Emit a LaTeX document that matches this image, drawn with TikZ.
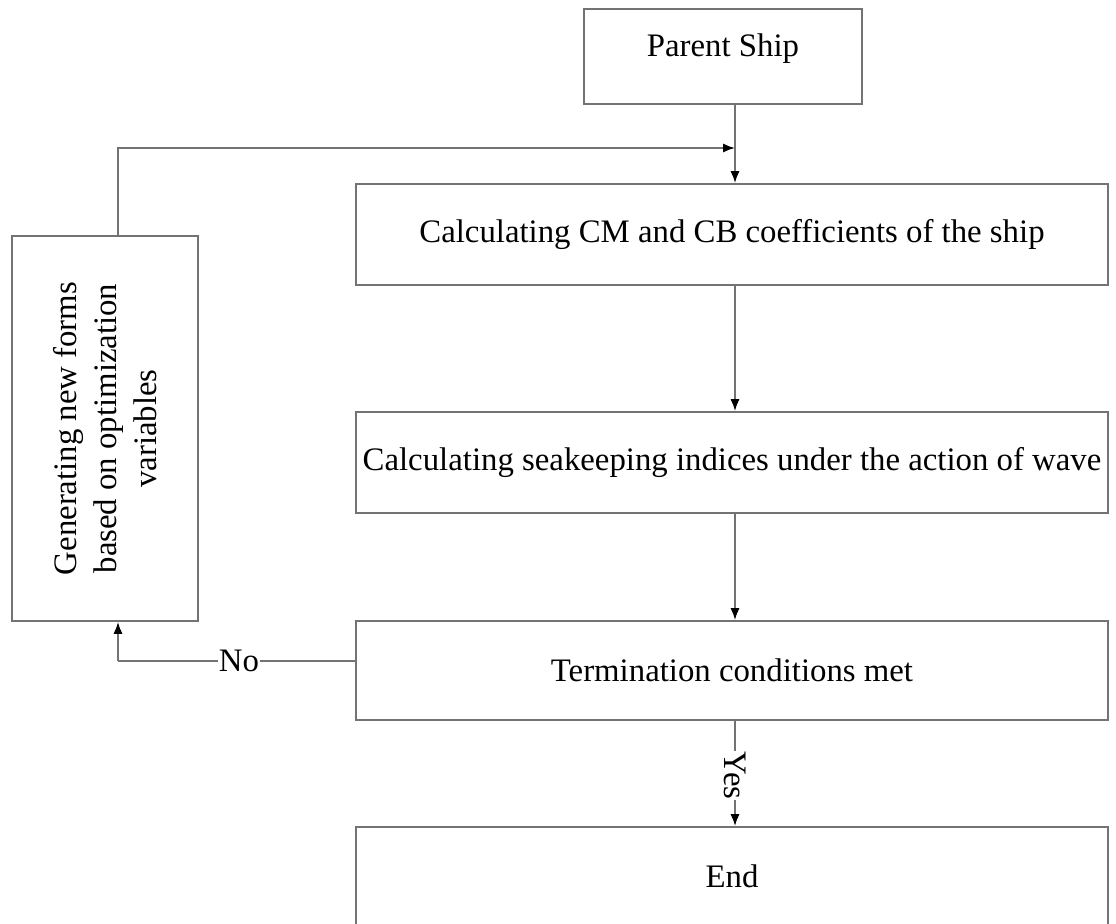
\documentclass[tikz,border=0pt]{standalone}
\usepackage{fontspec}
\setmainfont{Liberation Serif}
\usetikzlibrary{arrows.meta,calc}

\begin{document}
\begin{tikzpicture}[
		x=0.5pt, y=-0.5pt,
		>={Latex[length=6pt,width=4.6pt,black]},
		box/.style={draw=black!55, line width=0.9pt, inner sep=0pt,
			font=\fontsize{16.4}{19}\selectfont, align=center},
		link/.style={draw=black!55, line width=0.9pt},
		tag/.style={font=\fontsize{16.4}{19}\selectfont, fill=white, inner sep=0.5pt},
	]
	\useasboundingbox (0,0) rectangle (1116,924);

	% ---------- main column ----------
	\node[box, minimum width=139pt, minimum height=47.5pt] (parent) at (723,56.5)
		{\raisebox{11pt}{Parent Ship}};
	\node[box, minimum width=376pt, minimum height=50.5pt] (coeff) at (732,234.5)
		{\raisebox{-1.5pt}{Calculating CM and CB coefficients of the ship}};
	\node[box, minimum width=376pt, minimum height=50.5pt] (seakeep) at (732,462.5)
		{Calculating seakeeping indices under the action of wave};
	\node[box, minimum width=376pt, minimum height=49.5pt] (term) at (732,670.5)
		{Termination conditions met};
	\node[box, minimum width=376pt, minimum height=55pt] (finish) at (732,882)
		{\raisebox{6pt}{End}};

	% ---------- feedback box ----------
	\node[box, minimum width=93pt, minimum height=192.5pt] (newform) at (105,428.5) {};
	\node[font=\fontsize{16.4}{20}\selectfont, align=center, rotate=90] (newtext) at (newform.center)
		{Generating new forms\\based on optimization\\variables};

	% ---------- connectors ----------
	\coordinate (spine) at (735,0);
	\coordinate (loopx) at (118,0);
	\coordinate (top) at (0,148);
	\coordinate (nolevel) at (0,661);
	\draw[link,->] (parent.south -| spine) -- (coeff.north -| spine);
	\draw[link,->] (coeff.south -| spine) -- (seakeep.north -| spine);
	\draw[link,->] (seakeep.south -| spine) -- (term.north -| spine);
	\draw[link,->] (term.south -| spine) -- node[tag, rotate=-90, pos=0.52] (yes) {Yes} (finish.north -| spine);
	\draw[link,->] (newform.north -| loopx) |- (top -| spine);
	\draw[link] (term.west |- nolevel) -- node[tag, pos=0.49] (no) {No} (loopx |- nolevel);
	\draw[link,->] (loopx |- nolevel) -- (newform.south -| loopx);

\end{tikzpicture}
\end{document}
